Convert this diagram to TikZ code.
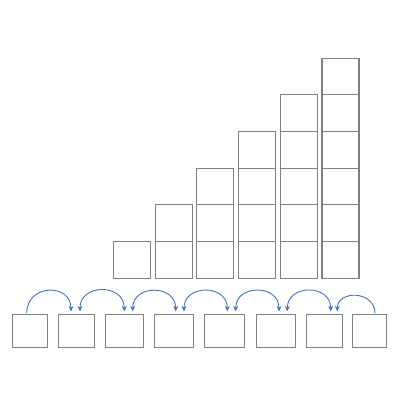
\documentclass[tikz,border=0pt]{standalone}
\usepackage{xcolor}
\usepackage{tikz}
\usetikzlibrary{arrows.meta}

\definecolor{boxgray}{RGB}{128,128,128}
\definecolor{hopblue}{RGB}{68,114,196}

\begin{document}
\begin{tikzpicture}[x=1pt, y=1pt,
    cell/.style={draw=boxgray, line width=1.1pt, rectangle, inner sep=0pt, minimum width=37pt, minimum height=36.7pt},
    slot/.style={draw=boxgray, line width=1.1pt, rectangle, inner sep=0pt, minimum height=32.7pt},
    hop/.style={draw=hopblue, line width=0.9pt, out=90, in=90, looseness=1.8},
    oneway/.style={-{Stealth[length=5.5pt, width=5pt]}, shorten <=1pt, shorten >=3pt},
    twoway/.style={{Stealth[length=5.5pt, width=5pt]}-{Stealth[length=5.5pt, width=5pt]}, shorten <=3pt, shorten >=3pt}]
    \useasboundingbox (0,0) rectangle (400,400);

    % staircase of cells
    \foreach \i in {1,...,6}
        \foreach \j in {1,...,\i}
            \node[cell] (c-\i-\j) at ({132+41.7*(\i-1)},{140+36.7*(\j-1)}) {};

    % bottom row
    \foreach \n/\x/\w in {1/30.2/35, 2/76.3/36, 3/124.2/38.3, 4/173.7/39.3,
                          5/224.3/40, 6/275.9/39.7, 7/324.4/36.7, 8/369.4/33.3}
        \node[slot, minimum width=\w pt] (b\n) at (\x,68.7) {};

    % hops between neighbours
    \foreach \a/\sa/\b/\sb/\tip in {1/-3.5/2/-5.3/oneway, 2/3.7/3/0.1/twoway, 3/8.5/4/2/twoway,
                                    4/10.3/5/3/twoway, 5/11.4/6/3.1/twoway, 6/11.4/7/6.3/twoway}
        \draw[hop, \tip] ([xshift=\sa pt]b\a.north) to ([xshift=\sb pt]b\b.north);
    \draw[hop, oneway, looseness=1.65] ([xshift=5.6pt]b8.north) to ([xshift=12.9pt]b7.north);
\end{tikzpicture}
\end{document}
